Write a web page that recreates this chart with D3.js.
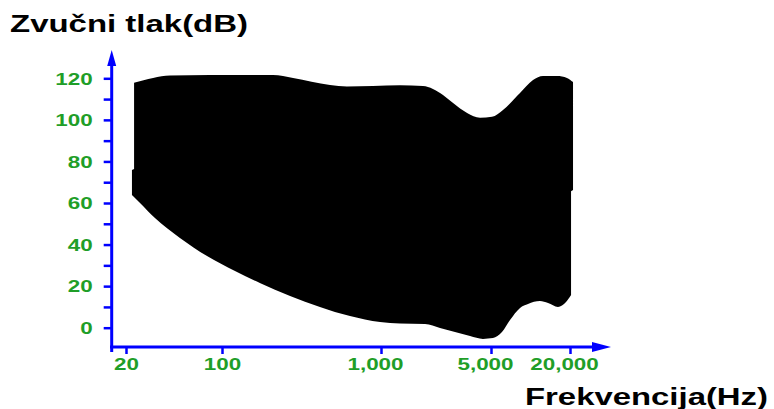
<!DOCTYPE html>
<html><head><meta charset="utf-8">
<script src="https://cdn.jsdelivr.net/npm/d3@7"></script>
<style>
html,body{margin:0;padding:0;background:#fff;}
svg{display:block;font-family:"Liberation Sans",Arial,sans-serif;}
</style></head>
<body>
<svg id="c" width="774" height="409"></svg>
<script>
// ---- data ----
const xTicks = [20, 100, 1000, 5000, 20000];
const yTicks = [0,10,20,30,40,50,60,70,80,90,100,110,120];
const yLabelTicks = [0,20,40,60,80,100,120];
// upper limit (threshold of pain) [Hz, dB]
const upperFreq = [22.9,31.5,41.8,81.8,130,209,280,478,611,891,1321,1848,2138,2477,2871,3524,4258,5088,6170,8318,10450,12450,15920,18970,21090];
const upperDb   = [117.8,120.2,121.3,121.6,121.6,121.6,120.2,116.8,116.1,116.3,116.6,116.3,114.9,112,108.1,103.3,101,101.5,104.8,112.9,119.2,121.1,121.1,120.2,118.2];
// lower limit (threshold of hearing) [Hz, dB]
const lowerFreq = [22.1,25.3,32.5,49.4,77.8,120.7,173,268,413,638,986,1321,1905,2371,2952,3679,4446,5177,6063,6980,8318,9572,11810,13600,16200,18650,20370];
const lowerDb   = [63.9,60.0,52.8,43.2,34.5,27.3,21.5,15.3,10.0,5.6,2.7,2.0,1.8,-0.1,-2.1,-4.0,-5.4,-5.0,-2.1,3.7,9.5,11.4,12.8,11.9,10.0,12.4,15.7];
// vertical edges
const rightEdgeFreq = [21090,21090,20370,20370];
const rightEdgeDb   = [118.2,66.2,65.6,15.7];
const leftEdgeFreq  = [22.1,22.1,22.9,22.9];
const leftEdgeDb    = [63.9,75.9,76.4,117.8];
const yTitle = "Zvučni tlak(dB)";
const xTitle = "Frekvencija(Hz)";

const svg = d3.select("#c");
const x = d3.scaleLog().domain(xTicks).range([126,222,381,491,570]);
const y = d3.scaleLinear().domain([0,120]).range([327.7,78.3]);
const BLUE = "#0000ff", GREEN = "#1f9e28";

// ---- shape ----
const zip = (f,d) => f.map((v,i)=>[v,d[i]]);
const lc = d3.line().x(d=>x(d[0])).y(d=>y(d[1])).curve(d3.curveMonotoneX);
const ll = d3.line().x(d=>x(d[0])).y(d=>y(d[1]));
const up = lc(zip(upperFreq,upperDb));
const re = ll(zip(rightEdgeFreq,rightEdgeDb)).replace(/^M/,"L");
const lo = lc(zip(lowerFreq,lowerDb).reverse()).replace(/^M/,"L");
const le = ll(zip(leftEdgeFreq,leftEdgeDb)).replace(/^M/,"L");
svg.append("path").attr("d", up+re+lo+le+"Z").attr("fill","#000");

// ---- axes ----
const x0 = 111.7, y0 = 347;
const ya = svg.append("g").attr("transform",`translate(${x0},0)`)
  .call(d3.axisLeft(y).tickValues(yTicks).tickSize(8).tickFormat(d=>yLabelTicks.includes(d)?d:""));
const xa = svg.append("g").attr("transform",`translate(0,${y0})`)
  .call(d3.axisBottom(x).tickValues(xTicks).tickSize(7).tickFormat(d3.format(",")));
[ya,xa].forEach(g=>{
  g.select(".domain").remove();
  g.selectAll(".tick line").attr("stroke",BLUE).attr("stroke-width",2.5);
  g.selectAll(".tick text").attr("fill",GREEN).attr("font-size",16).attr("font-weight","bold")
    .attr("font-family","'Liberation Sans',Arial,sans-serif");
});
ya.selectAll(".tick text").attr("x",-19).attr("dy","0.36em");
xa.selectAll(".tick text").attr("y",11).attr("dy","0.72em")
  .attr("dx", d => d>=1000 ? -6 : 0);
svg.selectAll(".tick text").each(function(){
  const w = this.getComputedTextLength();
  if (w>0) d3.select(this).attr("textLength", w*1.4).attr("lengthAdjust","spacingAndGlyphs");
});
// axis lines with arrows
svg.append("line").attr("x1",x0).attr("x2",x0).attr("y1",352).attr("y2",60)
  .attr("stroke",BLUE).attr("stroke-width",3);
svg.append("path").attr("d",`M${x0},50 L${x0-4.5},66 L${x0+4.5},66 Z`).attr("fill",BLUE);
svg.append("line").attr("x1",110).attr("x2",600).attr("y1",y0).attr("y2",y0)
  .attr("stroke",BLUE).attr("stroke-width",3);
svg.append("path").attr("d",`M611,${y0} L592,${y0-5} L592,${y0+5} Z`).attr("fill",BLUE);

// ---- titles ----
svg.append("text").attr("x",10).attr("y",32).text(yTitle)
  .attr("font-size",24).attr("font-weight","bold").attr("fill","#000")
  .attr("textLength",238).attr("lengthAdjust","spacingAndGlyphs");
svg.append("text").attr("x",525).attr("y",405).text(xTitle)
  .attr("font-size",24).attr("font-weight","bold").attr("fill","#000")
  .attr("textLength",243).attr("lengthAdjust","spacingAndGlyphs");
</script>
</body></html>
